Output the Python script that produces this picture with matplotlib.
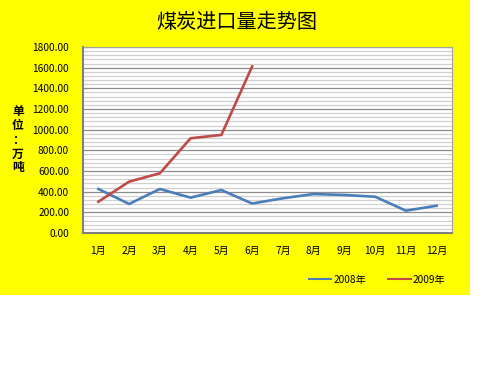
import matplotlib
matplotlib.use("Agg")
import matplotlib.pyplot as plt
from matplotlib.patches import Rectangle
from matplotlib.lines import Line2D
from matplotlib.ticker import MultipleLocator

plt.rcParams['font.family'] = ['Noto Sans CJK SC', 'DejaVu Sans']

months = ["1月", "2月", "3月", "4月", "5月", "6月",
          "7月", "8月", "9月", "10月", "11月", "12月"]
imports_2008 = [426, 281, 426, 342, 416, 285, 336, 377, 368, 351, 216, 264]
imports_2009 = [303, 497, 578, 917, 949, 1612]
series_names = ["2008年", "2009年"]

fig = plt.figure(figsize=(5, 3.75), dpi=100)
fig.patch.set_facecolor("white")
# yellow chart area
fig.patches.append(Rectangle((0, 1 - 295 / 375), 470 / 500, 295 / 375,
                             transform=fig.transFigure, facecolor="#FFFF00",
                             edgecolor="none", zorder=-10))

ax = fig.add_axes([83 / 500, 1 - 233 / 375, 369 / 500, 186 / 375])
ax.set_facecolor("white")

x = list(range(len(months)))
ax.plot(x, imports_2008, color="#4A7EBB", lw=1.9, zorder=3)
ax.plot(x[:len(imports_2009)], imports_2009, color="#BE4B48", lw=1.9, zorder=3)

ax.set_xlim(-0.5, len(months) - 0.5)
ax.set_ylim(0, 1800)
ax.yaxis.set_major_locator(MultipleLocator(200))
ax.yaxis.set_minor_locator(MultipleLocator(40))
ax.grid(axis="y", which="major", color="#8C8C8C", lw=0.9)
ax.grid(axis="y", which="minor", color="#D0D0D0", lw=0.9)
ax.set_axisbelow(True)
ax.set_yticklabels([f"{v:.2f}" for v in ax.get_yticks()])
ax.set_xticks(x)
ax.set_xticklabels(months)
ax.tick_params(axis="both", which="both", length=0, labelsize=7.3)
ax.tick_params(axis="x", pad=9)
ax.tick_params(axis="y", pad=10)
for s in ax.spines.values():
    s.set_color("#A0A0A0")
    s.set_linewidth(0.8)
ax.spines["left"].set_color("#808080")
ax.spines["left"].set_linewidth(1.5)
ax.spines["bottom"].set_color("#808080")
ax.spines["bottom"].set_linewidth(1.5)

fig.text(237 / 500, 1 - 22 / 375, "煤炭进口量走势图", ha="center", va="center",
         fontsize=14.5, fontweight="medium")
fig.text(18 / 500, 1 - 140 / 375, "单\n位\n：\n万\n吨", ha="center", va="center",
         fontsize=8.5, fontweight="bold", linespacing=1.1)

handles = [Line2D([], [], color="#4A7EBB", lw=1.5),
           Line2D([], [], color="#BE4B48", lw=1.5)]
fig.legend(handles, series_names, loc="center", bbox_to_anchor=(377 / 500, 1 - 280 / 375),
           ncol=2, frameon=False, fontsize=7.3, handlelength=2.2, columnspacing=2.2,
           handletextpad=0.2)

fig.savefig("out.png", dpi=100)
